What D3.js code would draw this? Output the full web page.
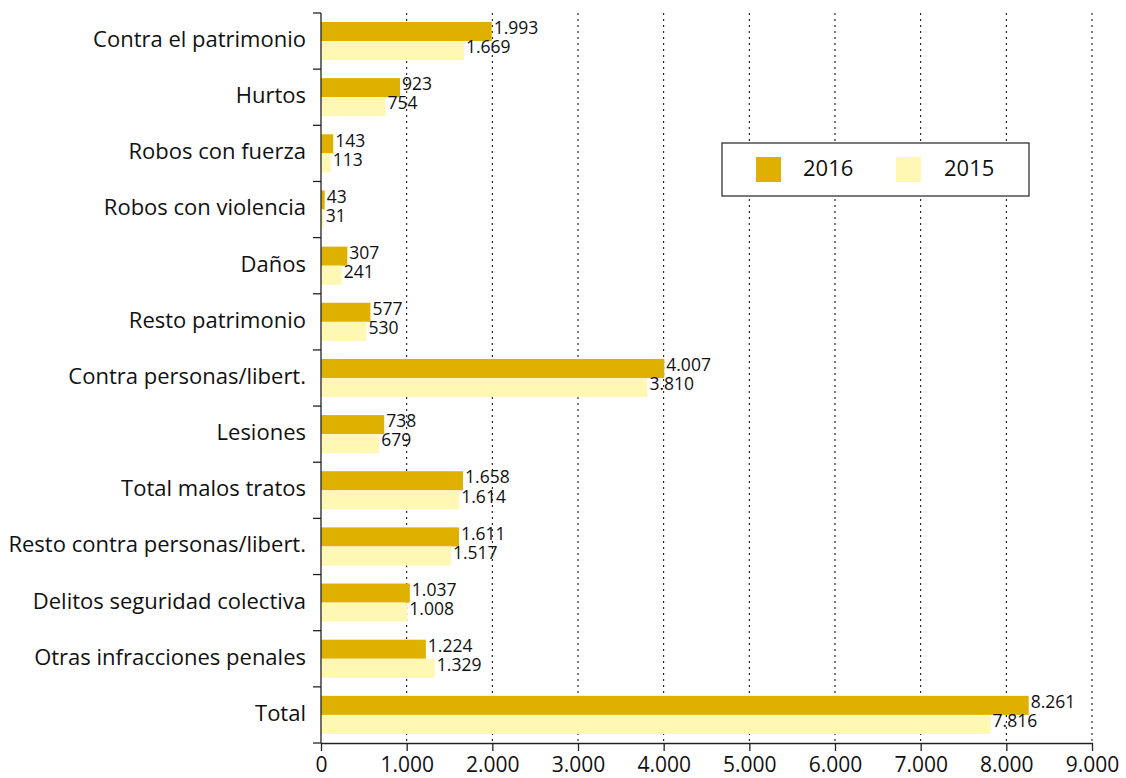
<!DOCTYPE html>
<html><head><meta charset="utf-8">
<script src="https://cdn.jsdelivr.net/npm/d3@7"></script>
<style>body{margin:0;background:#fff;} svg{display:block;font-family:"Open Sans", sans-serif;}</style>
</head><body><svg id="c" width="1126" height="778"></svg>
<script>
const categories = ["Contra el patrimonio","Hurtos","Robos con fuerza","Robos con violencia","Daños","Resto patrimonio","Contra personas/libert.","Lesiones","Total malos tratos","Resto contra personas/libert.","Delitos seguridad colectiva","Otras infracciones penales","Total"];
const values2016 = [1993,923,143,43,307,577,4007,738,1658,1611,1037,1224,8261];
const values2015 = [1669,754,113,31,241,530,3810,679,1614,1517,1008,1329,7816];
const seriesNames = ["2016","2015"];
const xTicks = [0,1000,2000,3000,4000,5000,6000,7000,8000,9000];
const colors = {"2016":"#DEB100","2015":"#FFF8B4"};

const loc = d3.formatLocale({decimal:",", thousands:".", grouping:[3], currency:["","€"]});
const fmt = loc.format(",d");

const svg = d3.select("#c");
const m = {left:321, right:1092, top:13, bottom:743};
const x = d3.scaleLinear().domain([0,9000]).range([m.left,m.right]);
const y = d3.scaleBand().domain(categories).range([m.top,m.bottom]).paddingInner(0.32).paddingOuter(0.16);
const y1 = d3.scaleBand().domain(seriesNames).range([0,y.bandwidth()]);

// grid
svg.append("g").selectAll("line").data(xTicks.slice(1)).join("line")
  .attr("x1",d=>x(d)).attr("x2",d=>x(d)).attr("y1",m.top).attr("y2",m.bottom)
  .attr("stroke","#000").attr("stroke-width",1).attr("stroke-dasharray","2,4");

const data = categories.map((c,i)=>({c, v:{"2016":values2016[i],"2015":values2015[i]}}));
const g = svg.append("g");
data.forEach(d=>{
  seriesNames.forEach(s=>{
    g.append("rect").attr("x",x(0)).attr("y",y(d.c)+y1(s)).attr("width",x(d.v[s])-x(0)).attr("height",y1.bandwidth()).attr("fill",colors[s]);
  });
});
data.forEach(d=>{
  seriesNames.forEach(s=>{
    g.append("text").attr("x",x(d.v[s])+2).attr("y",y(d.c)+y1(s)+y1.bandwidth()/2-2)
      .attr("dominant-baseline","middle").attr("font-size",17.5).attr("fill","#111").text(fmt(d.v[s]));
  });
});

// y axis
const ya = svg.append("g");
ya.append("line").attr("x1",m.left).attr("x2",m.left).attr("y1",m.top).attr("y2",m.bottom).attr("stroke","#222").attr("stroke-width",1.3);
const step = (m.bottom-m.top)/categories.length;
d3.range(categories.length+1).forEach(i=>{
  ya.append("line").attr("x1",m.left-8).attr("x2",m.left).attr("y1",m.top+i*step).attr("y2",m.top+i*step).attr("stroke","#222").attr("stroke-width",1.3);
});
ya.selectAll("text.cat").data(categories).join("text").attr("class","cat")
  .attr("x",306).attr("y",d=>y(d)+y.bandwidth()/2).attr("text-anchor","end").attr("dominant-baseline","middle")
  .attr("font-size",22).attr("fill","#111").text(d=>d);

// x axis
const xa = svg.append("g").attr("transform",`translate(0,${m.bottom})`)
  .call(d3.axisBottom(x).tickValues(xTicks).tickFormat(fmt).tickSize(8).tickSizeOuter(0));
xa.select(".domain").attr("stroke","#222").attr("stroke-width",1.3);
xa.selectAll(".tick line").attr("stroke","#222").attr("stroke-width",1.3);
xa.selectAll(".tick text").attr("font-size",21).attr("font-family","'Open Sans', sans-serif").attr("fill","#111").attr("dy","0.85em");

// legend
const lg = svg.append("g");
lg.append("rect").attr("x",722).attr("y",143).attr("width",307).attr("height",53).attr("fill","#fff").attr("stroke","#333").attr("stroke-width",1.3);
const lpos = [{s:"2016",sx:756,tx:803},{s:"2015",sx:896,tx:944}];
lpos.forEach(p=>{
  lg.append("rect").attr("x",p.sx).attr("y",157).attr("width",25).attr("height",25).attr("fill",colors[p.s]);
  lg.append("text").attr("x",p.tx).attr("y",170).attr("dominant-baseline","middle").attr("font-size",22).attr("fill","#111").text(p.s);
});
</script></body></html>
